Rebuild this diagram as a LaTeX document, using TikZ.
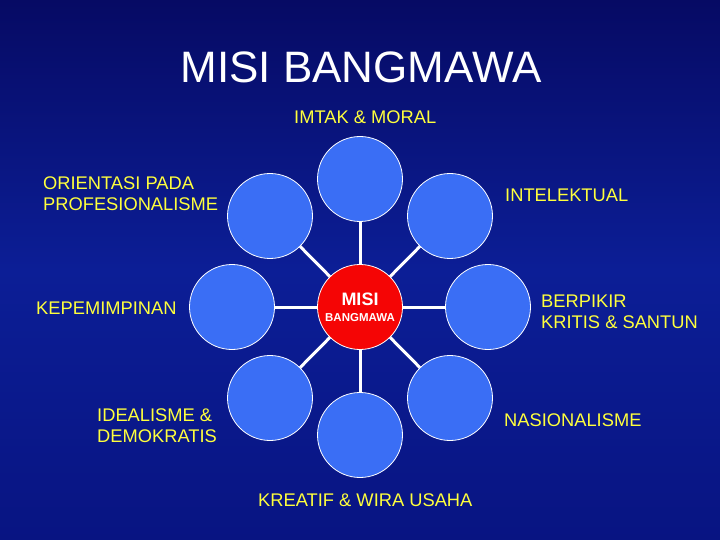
\documentclass[tikz,border=0pt]{standalone}
\usepackage{fontspec}
\setmainfont{Liberation Sans}
\begin{document}
\begin{tikzpicture}[x=1pt,y=-1pt,
  sat/.style={circle,draw=white,line width=0.8pt,fill={rgb,255:red,58;green,110;blue,245},minimum size=85pt,inner sep=0pt},
  hub/.style={circle,draw=white,line width=0.8pt,fill={rgb,255:red,245;green,5;blue,5},minimum size=85pt,inner sep=0pt,text=white,align=center},
  conn/.style={draw=white,line width=3pt},
  lbl/.style={text={rgb,255:red,255;green,255;blue,60},font=\fontsize{18.3}{21}\selectfont,align=left,inner sep=0pt}]
\useasboundingbox (0,0) rectangle (720,540);
\shade[top color={rgb,255:red,6;green,10;blue,100},bottom color={rgb,255:red,8;green,20;blue,130},middle color={rgb,255:red,12;green,30;blue,150}] (0,0) rectangle (720,540);
\node[text=white,font=\fontsize{44}{50}\selectfont] (title) at (361,67) {MISI BANGMAWA};
\node[hub] (c) at (360,307) {\fontsize{18}{18}\selectfont\bfseries MISI\\[4pt]\fontsize{11.5}{11.5}\selectfont\bfseries BANGMAWA};
\node[sat] (n) at (360,179) {};
\node[sat] (ne) at (450,216) {};
\node[sat] (e) at (488,307) {};
\node[sat] (se) at (450,398) {};
\node[sat] (s) at (360,435) {};
\node[sat] (sw) at (270,398) {};
\node[sat] (w) at (232,307) {};
\node[sat] (nw) at (270,216) {};
\foreach \t in {n,ne,e,se,s,sw,w,nw} \draw[conn] (c) -- (\t);
\node[lbl,anchor=west] (l1) at (294,117) {IMTAK \& MORAL};
\node[lbl,anchor=west] (l2) at (43,194) {ORIENTASI PADA\\PROFESIONALISME};
\node[lbl,anchor=west] (l3) at (505,195) {INTELEKTUAL};
\node[lbl,anchor=west] (l4) at (36,308) {KEPEMIMPINAN};
\node[lbl,anchor=west] (l5) at (541,312) {BERPIKIR\\KRITIS \& SANTUN};
\node[lbl,anchor=west] (l6) at (97,426) {IDEALISME \&\\DEMOKRATIS};
\node[lbl,anchor=west] (l7) at (504,420) {NASIONALISME};
\node[lbl,anchor=west] (l8) at (258,500) {KREATIF \& WIRA USAHA};
\end{tikzpicture}
\end{document}
